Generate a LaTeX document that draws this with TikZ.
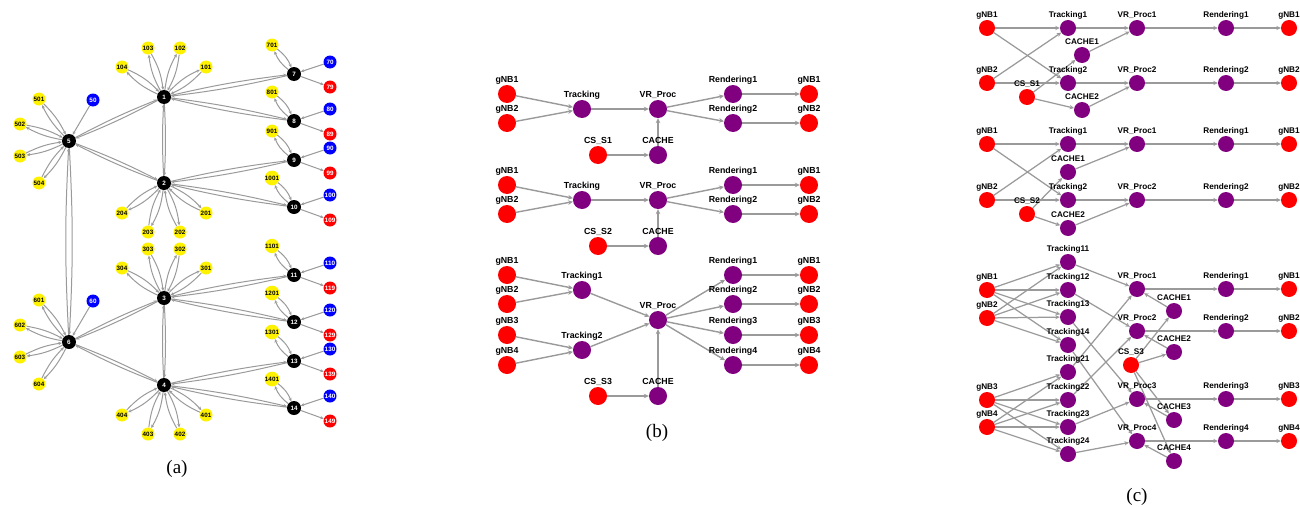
\documentclass[tikz,border=0pt]{standalone}
\usepackage{fontspec}
\setmainfont{Liberation Serif}
\setsansfont{Liberation Sans}
\usetikzlibrary{arrows.meta}
\definecolor{edgegray}{HTML}{9A9A9A}
\definecolor{vpurple}{HTML}{800080}
\pgfdeclarelayer{bg}
\pgfsetlayers{bg,main}
\newcommand\dblE[3]{\draw[ae] (#1) to[bend left=#3] (#2); \draw[ae] (#2) to[bend left=#3] (#1);}
\tikzset{
 an/.style={circle,inner sep=0pt,minimum size=13pt,font=\sffamily\bfseries\fontsize{6.3}{6.3}\selectfont},
 blk/.style={an,fill=black,text=white,minimum size=14pt},
 yel/.style={an,fill=yellow,text=black},
 blu/.style={an,fill=blue,text=white},
 rdn/.style={an,fill=red,text=white},
 ae/.style={draw=edgegray,line width=1pt,-{Stealth[length=3.5pt,width=3.2pt]}},
 fnode/.style={circle,inner sep=0pt},
 rn/.style={fnode,fill=red},
 pn/.style={fnode,fill=vpurple},
 fe/.style={draw=edgegray,line width=1.4pt,-{Stealth[length=5pt,width=4.6pt]}},
 capt/.style={font=\fontsize{19}{19}\selectfont},
 blab/.style={font=\sffamily\bfseries\fontsize{8.8}{9}\selectfont,inner sep=0pt,text height=6.3pt,text depth=1.8pt},
 clab/.style={font=\sffamily\bfseries\fontsize{8.2}{9}\selectfont,inner sep=0pt,text height=5.9pt,text depth=1.7pt},
}
\begin{document}
\begin{tikzpicture}[x=1pt,y=-1pt]
\useasboundingbox (0,0) rectangle (1300,506);

% ---------------- (a) ----------------
\foreach \h/\y/\s in {1/97/-1, 2/183/1, 3/298/-1, 4/385/1}{
  \node[blk] (a\h) at (164,\y) {\h};
  \node[yel] (a\h01) at (206,{\y+(\s)*30}) {\h01};
  \node[yel] (a\h02) at (180,{\y+(\s)*49}) {\h02};
  \node[yel] (a\h03) at (148,{\y+(\s)*49}) {\h03};
  \node[yel] (a\h04) at (122,{\y+(\s)*30}) {\h04};
}
\foreach \h/\y in {5/141, 6/342}{
  \node[blk] (a\h) at (69,\y) {\h};
  \node[yel] (a\h01) at (39,{\y-42}) {\h01};
  \node[blu] (a\h0) at (93,{\y-41}) {\h0};
  \node[yel] (a\h02) at (20,{\y-17}) {\h02};
  \node[yel] (a\h03) at (20,{\y+15}) {\h03};
  \node[yel] (a\h04) at (39,{\y+42}) {\h04};
}
\foreach \h/\y in {7/74, 8/121, 9/160, 10/207, 11/275, 12/322, 13/361, 14/408}{
  \node[blk] (a\h) at (294,\y) {\h};
  \node[yel] (a\h01) at (272,{\y-29}) {\h01};
  \node[blu] (a\h0) at (330,{\y-12}) {\h0};
  \node[rdn] (a\h9) at (330,{\y+13}) {\h9};
}
\node[capt] (capa) at (177,469) {(a)};

% ---------------- (b) ----------------
\begin{scope}[every label/.style=blab, fnode/.append style={minimum size=18pt}]
\foreach \o/\n in {0/1,91/2}{
  \node[rn,label=above:gNB1] (b\n ga) at (507,{94+\o}) {};
  \node[rn,label=above:gNB2] (b\n gb) at (507,{123+\o}) {};
  \node[pn,label=above:Tracking] (b\n t) at (582,{109+\o}) {};
  \node[pn,label=above:VR\_Proc] (b\n v) at (658,{109+\o}) {};
  \node[pn,label=above:Rendering1] (b\n ra) at (733,{94+\o}) {};
  \node[pn,label=above:Rendering2] (b\n rb) at (733,{123+\o}) {};
  \node[rn,label=above:gNB1] (b\n oa) at (809,{94+\o}) {};
  \node[rn,label=above:gNB2] (b\n ob) at (809,{123+\o}) {};
  \node[rn,label=above:CS\_S\n] (b\n s) at (598,{155+\o}) {};
  \node[pn,label=above:CACHE] (b\n c) at (658,{155+\o}) {};
}
\foreach \i/\y in {1/275,2/304,3/335,4/365}{
  \node[rn,label=above:gNB\i] (b3g\i) at (507,\y) {};
  \node[pn,label=above:Rendering\i] (b3r\i) at (733,\y) {};
  \node[rn,label=above:gNB\i] (b3o\i) at (809,\y) {};
}
\node[pn,label=above:Tracking1] (b3t1) at (582,290) {};
\node[pn,label=above:Tracking2] (b3t2) at (582,350) {};
\node[pn,label=above:VR\_Proc] (b3v) at (658,320) {};
\node[rn,label=above:CS\_S3] (b3s) at (598,396) {};
\node[pn,label=above:CACHE] (b3c) at (658,396) {};
\end{scope}
\node[capt] (capb) at (657,433) {(b)};

% ---------------- (c) ----------------
\begin{scope}[every label/.style=clab, fnode/.append style={minimum size=16pt}, label distance=0.5pt]
% section 1
\node[rn,label=above:gNB1] (c1ga) at (987,28) {};
\node[rn,label=above:gNB2] (c1gb) at (987,83) {};
\node[pn,label=above:Tracking1] (c1ta) at (1068,28) {};
\node[pn,label=above:Tracking2] (c1tb) at (1068,83) {};
\node[pn,label=above:CACHE1] (c1ca) at (1082,55) {};
\node[pn,label=above:CACHE2] (c1cb) at (1082,110) {};
\node[rn,label=above:CS\_S1] (c1s) at (1027,97) {};
\node[pn,label=above:VR\_Proc1] (c1va) at (1137,28) {};
\node[pn,label=above:VR\_Proc2] (c1vb) at (1137,83) {};
\node[pn,label=above:Rendering1] (c1ra) at (1226,28) {};
\node[pn,label=above:Rendering2] (c1rb) at (1226,83) {};
\node[rn,label=above:gNB1] (c1oa) at (1289,28) {};
\node[rn,label=above:gNB2] (c1ob) at (1289,83) {};
% section 2
\node[rn,label=above:gNB1] (c2ga) at (987,144) {};
\node[rn,label=above:gNB2] (c2gb) at (987,200) {};
\node[pn,label=above:Tracking1] (c2ta) at (1068,144) {};
\node[pn,label=above:Tracking2] (c2tb) at (1068,200) {};
\node[pn,label=above:CACHE1] (c2ca) at (1068,172) {};
\node[pn,label=above:CACHE2] (c2cb) at (1068,228) {};
\node[rn,label=above:CS\_S2] (c2s) at (1027,214) {};
\node[pn,label=above:VR\_Proc1] (c2va) at (1137,144) {};
\node[pn,label=above:VR\_Proc2] (c2vb) at (1137,200) {};
\node[pn,label=above:Rendering1] (c2ra) at (1226,144) {};
\node[pn,label=above:Rendering2] (c2rb) at (1226,200) {};
\node[rn,label=above:gNB1] (c2oa) at (1289,144) {};
\node[rn,label=above:gNB2] (c2ob) at (1289,200) {};
% section 3
\foreach \t/\y in {11/262,12/290,13/317,14/345,21/372,22/400,23/427,24/454}{
  \node[pn,label=above:Tracking\t] (c3t\t) at (1068,\y) {};
}
\node[rn,label=above:gNB1] (c3g1) at (987,290) {};
\node[rn,label=above:gNB2] (c3g2) at (987,318) {};
\node[rn,label=above:gNB3] (c3g3) at (987,400) {};
\node[rn,label=above:gNB4] (c3g4) at (987,427) {};
\foreach \i/\y/\cy in {1/289/311,2/331/352,3/399/420,4/441/461}{
  \node[pn,label=above:VR\_Proc\i] (c3v\i) at (1137,\y) {};
  \node[pn,label=above:CACHE\i] (c3c\i) at (1174,\cy) {};
  \node[pn,label=above:Rendering\i] (c3r\i) at (1226,\y) {};
  \node[rn,label=above:gNB\i] (c3o\i) at (1289,\y) {};
}
\node[rn,label=above:CS\_S3] (c3s) at (1131,365) {};
\end{scope}
\node[capt] (capc) at (1137,497) {(c)};

% ---------------- edges ----------------
\begin{pgfonlayer}{bg}
% (a)
\foreach \h in {1,2,3,4}{\foreach \k in {01,02,03,04}{\dblE{a\h}{a\h\k}{11}}}
\foreach \h in {5,6}{\foreach \k in {01,02,03,04}{\dblE{a\h}{a\h\k}{9}} \draw[ae] (a\h0) -- (a\h);}
\foreach \h in {7,...,14}{\dblE{a\h}{a\h01}{15} \draw[ae] (a\h0) -- (a\h); \draw[ae] (a\h) -- (a\h9);}
\foreach \p/\q in {1/7,1/8,2/9,2/10,3/11,3/12,4/13,4/14,1/2,3/4,5/1,5/2,6/3,6/4,5/6}{\dblE{a\p}{a\q}{3}}
% (b)
\foreach \n in {1,2}{
  \draw[fe] (b\n ga) -- (b\n t);
  \draw[fe] (b\n gb) -- (b\n t);
  \draw[fe] (b\n t) -- (b\n v);
  \draw[fe] (b\n s) -- (b\n c);
  \draw[fe] (b\n c) -- (b\n v);
  \draw[fe] (b\n v) -- (b\n ra);
  \draw[fe] (b\n v) -- (b\n rb);
  \draw[fe] (b\n ra) -- (b\n oa);
  \draw[fe] (b\n rb) -- (b\n ob);
}
\draw[fe] (b3g1) -- (b3t1);
\draw[fe] (b3g2) -- (b3t1);
\draw[fe] (b3g3) -- (b3t2);
\draw[fe] (b3g4) -- (b3t2);
\draw[fe] (b3t1) -- (b3v);
\draw[fe] (b3t2) -- (b3v);
\draw[fe] (b3s) -- (b3c);
\draw[fe] (b3c) -- (b3v);
\foreach \i in {1,2,3,4}{\draw[fe] (b3v) -- (b3r\i); \draw[fe] (b3r\i) -- (b3o\i);}
% (c)
\begin{scope}[fe/.append style={line width=1.25pt,-{Stealth[length=4.5pt,width=4.2pt]}}]
\foreach \n in {1,2}{
  \draw[fe] (c\n ga) -- (c\n ta);
  \draw[fe] (c\n ga) -- (c\n tb);
  \draw[fe] (c\n gb) -- (c\n ta);
  \draw[fe] (c\n gb) -- (c\n tb);
  \draw[fe] (c\n s) -- (c\n ca);
  \draw[fe] (c\n s) -- (c\n cb);
  \draw[fe] (c\n ta) -- (c\n va);
  \draw[fe] (c\n ca) -- (c\n va);
  \draw[fe] (c\n tb) -- (c\n vb);
  \draw[fe] (c\n cb) -- (c\n vb);
  \draw[fe] (c\n va) -- (c\n ra);
  \draw[fe] (c\n vb) -- (c\n rb);
  \draw[fe] (c\n ra) -- (c\n oa);
  \draw[fe] (c\n rb) -- (c\n ob);
}
\foreach \g in {1,2}{\foreach \t in {11,12,13,14}{\draw[fe] (c3g\g) -- (c3t\t);}}
\foreach \g in {3,4}{\foreach \t in {21,22,23,24}{\draw[fe] (c3g\g) -- (c3t\t);}}
\foreach \i in {1,2,3,4}{
  \draw[fe] (c3t1\i) -- (c3v\i);
  \draw[fe] (c3t2\i) -- (c3v\i);
  \draw[fe] (c3s) -- (c3c\i);
  \draw[fe] (c3c\i) -- (c3v\i);
  \draw[fe] (c3v\i) -- (c3r\i);
  \draw[fe] (c3r\i) -- (c3o\i);
}
\end{scope}
\end{pgfonlayer}
\end{tikzpicture}
\end{document}
